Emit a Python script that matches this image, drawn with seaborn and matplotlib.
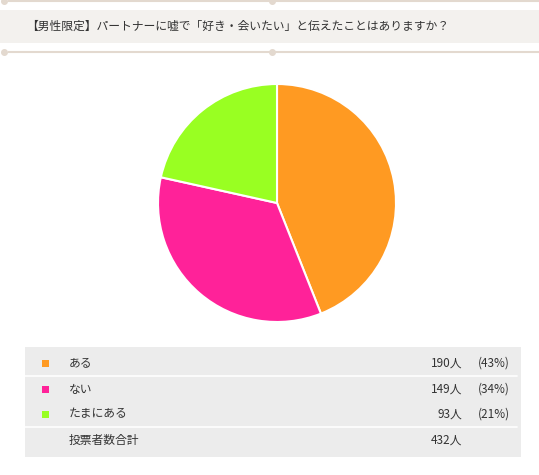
import matplotlib
matplotlib.use('Agg')
import matplotlib.pyplot as plt
import seaborn as sns
from matplotlib.patches import Rectangle

# Poll results
title = '【男性限定】パートナーに嘘で「好き・会いたい」と伝えたことはありますか？'
answers = ['ある', 'ない', 'たまにある']
votes = [190, 149, 93]
percents = [43, 34, 21]
total_label = '投票者数合計'
total_votes = 432
colors = ['#ff9a22', '#ff2299', '#99ff22']

sns.set_theme(style='white')
plt.rcParams['font.family'] = ['Noto Sans CJK JP', 'DejaVu Sans']

W, H = 539, 475
fig = plt.figure(figsize=(W / 100, H / 100), dpi=100)
fig.patch.set_facecolor('white')

# Background axes in pixel coordinates for the header and table
bg = fig.add_axes([0, 0, 1, 1])
bg.set_xlim(0, W)
bg.set_ylim(H, 0)
bg.axis('off')

text_color = '#333333'
deco = '#e3d9cf'

# Header band with decorative rules
bg.add_patch(Rectangle((0, 10), W, 33, facecolor='#f3f1ee', edgecolor='none'))
for y in (1, 52):
    bg.plot([8, W], [y, y], color=deco, lw=1.5, solid_capstyle='butt')
    bg.plot([4, 272], [y, y], marker='o', ls='none', ms=4, color=deco)
bg.text(26, 26, title, fontsize=8.5, color=text_color, va='center', ha='left')

# Table
bg.add_patch(Rectangle((25, 347), 496, 110, facecolor='#ececec', edgecolor='none'))
row_y = [363, 389, 414]
for y_sep in (376, 427):
    bg.plot([25, 517], [y_sep, y_sep], color='white', lw=1.2)
for y, ans, n, p, c in zip(row_y, answers, votes, percents, colors):
    bg.add_patch(Rectangle((42, y - 3.5), 7, 7, facecolor=c, edgecolor='none'))
    bg.text(69, y, ans, fontsize=8.5, color=text_color, va='center', ha='left')
    bg.text(462, y, f'{n}人', fontsize=8.5, color=text_color, va='center', ha='right')
    bg.text(510, y, f'({p}%)', fontsize=8.5, color=text_color, va='center', ha='right')
bg.text(69, 440, total_label, fontsize=8.5, color=text_color, va='center', ha='left')
bg.text(462, 440, f'{total_votes}人', fontsize=8.5, color=text_color, va='center', ha='right')

# Pie chart
cx, cy, r = 277, 203, 119
ax = fig.add_axes([(cx - r) / W, (H - cy - r) / H, 2 * r / W, 2 * r / H])
ax.pie(votes, colors=colors, startangle=90, counterclock=False,
       wedgeprops=dict(edgecolor='white', linewidth=1.5))
ax.set_xlim(-1, 1)
ax.set_ylim(-1, 1)
ax.set_aspect('auto')
ax.axis('off')

fig.savefig('out.png', dpi=100)
